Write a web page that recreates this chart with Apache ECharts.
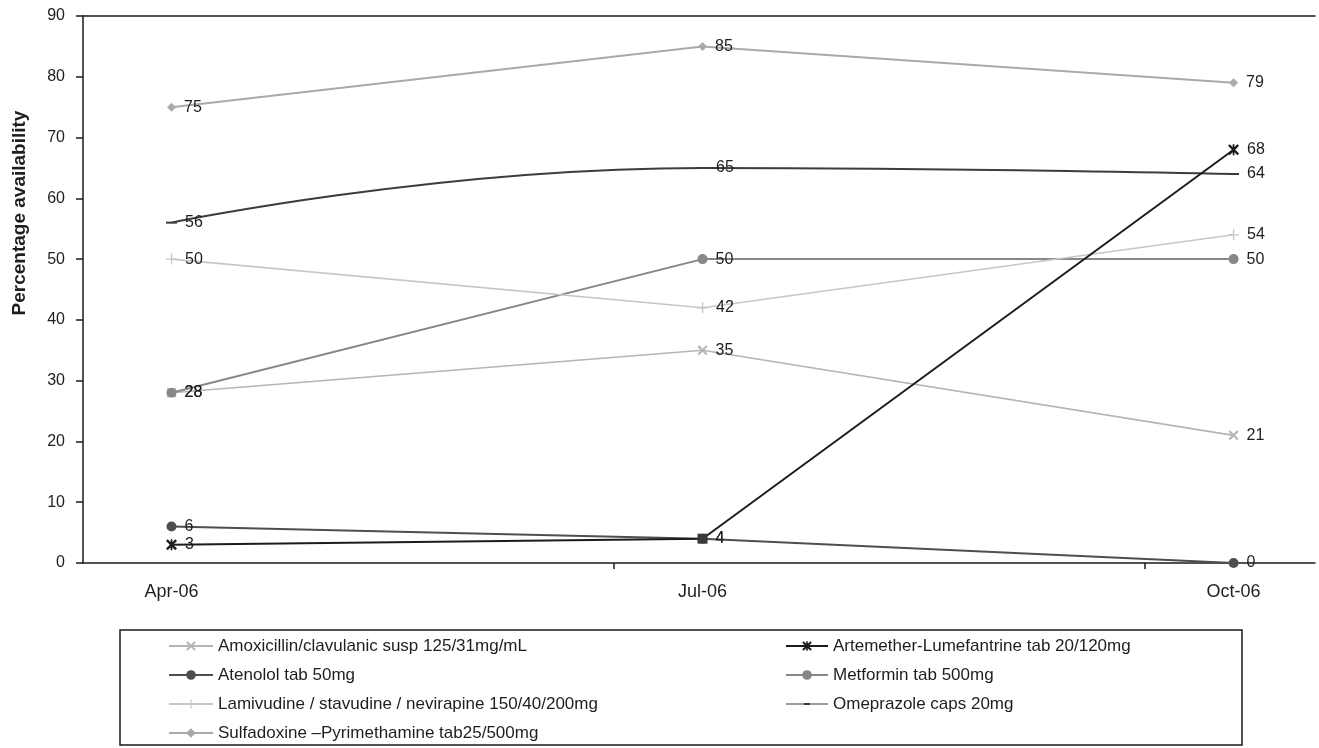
<!DOCTYPE html>
<html><head><meta charset="utf-8">
<script src="https://cdn.jsdelivr.net/npm/echarts@6/dist/echarts.min.js"></script>
<style>html,body{margin:0;padding:0;background:#fff}#c{width:1319px;height:748px}</style>
</head><body><div id="c"></div>
<script>
// ---- data ----
const categories = ['Apr-06', 'Jul-06', 'Oct-06'];
const monthOffsets = [0, 3, 6];           // months since Apr-06 (date axis)
const amoxicillin = [28, 35, 21];
const artemether  = [3, 4, 68];
const atenolol    = [6, 4, 0];
const metformin   = [28, 50, 50];
const lamivudine  = [50, 42, 54];
const omeprazole  = [56, 65, 64];
const sulfadoxine = [75, 85, 79];
const seriesNames = [
  'Amoxicillin/clavulanic susp 125/31mg/mL',
  'Artemether-Lumefantrine tab 20/120mg',
  'Atenolol tab 50mg',
  'Metformin tab 500mg',
  'Lamivudine / stavudine / nevirapine 150/40/200mg',
  'Omeprazole caps 20mg',
  'Sulfadoxine \u2013Pyrimethamine tab25/500mg'
];
const yAxisTitle = 'Percentage availability';

// ---- styling ----
const FONT = "'Liberation Sans', Arial, sans-serif";
const SYM_X = 'path://M0,1.5L1.5,0L5,3.5L8.5,0L10,1.5L6.5,5L10,8.5L8.5,10L5,6.5L1.5,10L0,8.5L3.5,5Z';
const SYM_PLUS = 'path://M4.4,0H5.6V4.4H10V5.6H5.6V10H4.4V5.6H0V4.4H4.4Z';
const SYM_STAR = 'path://M0,1.5L1.5,0L5,3.5L8.5,0L10,1.5L6.5,5L10,8.5L8.5,10L5,6.5L1.5,10L0,8.5L3.5,5ZM4.2,0H5.8V10H4.2Z';
const SYM_DASH = 'path://M0,0H10V2H0Z';
const LEG_DASHLINE = 'path://M0,1.5H42V2.5H0ZM18,1H24V3H18Z';

function pts(vals) { return vals.map((v, i) => [monthOffsets[i], v]); }

const labelStyle = { show: true, position: 'right', distance: 8, color: '#1e1e1e', fontSize: 16, fontFamily: FONT };

function mk(name, vals, color, width, symbol, size, extra) {
  return Object.assign({
    name: name, type: 'line', data: pts(vals),
    symbol: symbol, symbolSize: size, showAllSymbol: true,
    lineStyle: { color: color, width: width },
    itemStyle: { color: color },
    label: labelStyle,
    emphasis: { disabled: true }
  }, extra || {});
}

const artData = pts(artemether).map((p, i) => i === 1
  ? { value: p, symbol: 'rect', symbolSize: 10, itemStyle: { color: '#3a3a3a' } }
  : { value: p });

const series = [
  mk(seriesNames[0], amoxicillin, '#b5b5b5', 1.6, SYM_X, 10),
  mk(seriesNames[2], atenolol, '#4e4e4e', 2, 'circle', 10),
  mk(seriesNames[3], metformin, '#878787', 2, 'circle', 10),
  mk(seriesNames[4], lamivudine, '#c6c6c6', 1.6, SYM_PLUS, 11),
  mk(seriesNames[5], omeprazole, '#3c3c3c', 2, SYM_DASH, [11, 2], { smooth: 0.5 }),
  mk(seriesNames[6], sulfadoxine, '#a9a9a9', 2, 'diamond', 9),
  Object.assign(mk(seriesNames[1], artemether, '#1c1c1c', 2, SYM_STAR, 11), { data: artData })
];

const chart = echarts.init(document.getElementById('c'), null, { renderer: 'canvas' });
chart.setOption({
  animation: false,
  backgroundColor: '#ffffff',
  grid: { left: 83, right: 4, top: 16, bottom: 185, containLabel: false },
  xAxis: [{
    type: 'value', min: -0.5, max: 6.46, position: 'bottom',
    axisLine: { show: true, onZero: false, lineStyle: { color: '#1a1a1a', width: 1.5 } },
    splitLine: { show: false },
    axisTick: { show: true, inside: false, length: 6, customValues: [2.5, 5.5], lineStyle: { color: '#1a1a1a', width: 1.5 } },
    axisLabel: {
      customValues: monthOffsets, margin: 20,
      formatter: v => categories[monthOffsets.indexOf(v)] || '',
      color: '#1e1e1e', fontSize: 18, fontFamily: FONT
    }
  }, {
    type: 'value', min: -0.5, max: 6.46, position: 'top',
    axisLine: { show: true, onZero: false, lineStyle: { color: '#1a1a1a', width: 1.5 } },
    axisTick: { show: false }, axisLabel: { show: false }, splitLine: { show: false }
  }],
  yAxis: {
    type: 'value', min: 0, max: 90, interval: 10, position: 'left',
    axisLine: { show: true, onZero: false, lineStyle: { color: '#1a1a1a', width: 1.5 } },
    axisTick: { show: true, inside: false, length: 7, lineStyle: { color: '#1a1a1a', width: 1.5 } },
    splitLine: { show: false },
    axisLabel: { margin: 18, color: '#1e1e1e', fontSize: 16, fontFamily: FONT }
  },
  legend: [{
    data: [seriesNames[0], seriesNames[2], seriesNames[4], seriesNames[6]],
    orient: 'vertical', left: 168, top: 637, padding: 0,
    itemWidth: 44, itemHeight: 12, itemGap: 11, selectedMode: false,
    textStyle: { fontSize: 17, lineHeight: 18, color: '#1e1e1e', fontFamily: FONT }
  }, {
    data: [seriesNames[1], seriesNames[3], { name: seriesNames[5], icon: LEG_DASHLINE }],
    orient: 'vertical', left: 785, top: 637, padding: 0,
    itemWidth: 42, itemHeight: 12, itemGap: 11, selectedMode: false,
    textStyle: { fontSize: 17, lineHeight: 18, color: '#1e1e1e', fontFamily: FONT }
  }],
  graphic: [{
    type: 'rect', shape: { x: 120, y: 630, width: 1122, height: 115 },
    style: { fill: 'none', stroke: '#1a1a1a', lineWidth: 1.5 }, silent: true
  }, {
    type: 'text', x: 20, y: 213, rotation: Math.PI / 2,
    style: { text: yAxisTitle, align: 'center', verticalAlign: 'middle', fill: '#1e1e1e',
      font: "bold 19px 'Liberation Sans', Arial, sans-serif" }, silent: true
  }],
  series: series
});
</script>
</body></html>
